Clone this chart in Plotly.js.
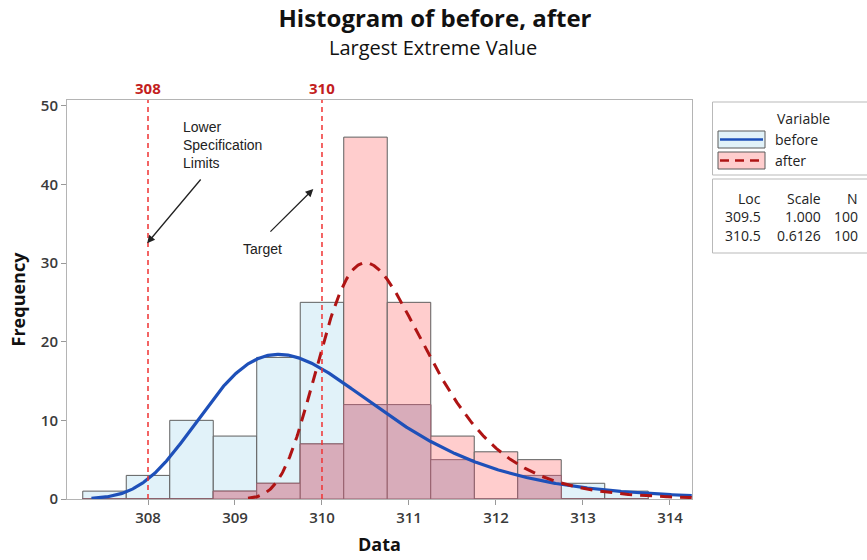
<!DOCTYPE html>
<html>
<head>
<meta charset="utf-8">
<script src="https://cdn.plot.ly/plotly-3.0.1.min.js"></script>
<style>
  html, body { margin: 0; padding: 0; background: #fff; }
  #chart { width: 867px; height: 560px; }
</style>
</head>
<body>
<div id="chart"></div>
<script>
// Histogram bins (bin width 0.5) and counts for each variable
const binCenters = [307.5, 308, 308.5, 309, 309.5, 310, 310.5, 311, 311.5, 312, 312.5, 313, 313.5];
const beforeCounts = [1, 3, 10, 8, 18, 25, 12, 12, 5, 0, 3, 2, 1];
const afterCounts  = [0, 0, 0, 1, 2, 7, 46, 25, 8, 6, 5, 0, 0];
const binWidth = 0.5;

// Largest extreme value fit parameters
const variables = ['before', 'after'];
const fitLoc   = [309.5, 310.5];
const fitScale = [1.000, 0.6126];
const fitN     = [100, 100];
const fitStart = [307.35, 309.15];
const fitEnd   = 314.25;

// Specification lines
const specValues = [308, 310];

// Plot-area geometry (pixels)
const L = 67, R = 692, T = 100, B = 499;
const px2x = p => (p - L) / (R - L);
const py2y = p => (B - p) / (B - T);

// Fitted density curve, scaled to counts per bin
function lev(loc, scale, n, x0, x1) {
  const xs = [], ys = [];
  for (let x = x0; x <= x1 + 1e-9; x += 0.01) {
    const z = (x - loc) / scale;
    xs.push(x);
    ys.push(n * binWidth / scale * Math.exp(-(z + Math.exp(-z))));
  }
  return {xs, ys};
}

const overlap = beforeCounts.map((b, i) => Math.min(b, afterCounts[i]));

const blueFill = 'rgb(225,242,249)';
const pinkFill = 'rgb(255,205,205)';
const mauveFill = 'rgb(216,172,186)';
const barEdge = 'rgb(95,95,95)';
const blueLine = 'rgb(30,80,185)';
const redLine = 'rgb(175,20,20)';

const traces = [
  {type: 'bar', x: binCenters, y: beforeCounts, width: binWidth, name: 'before',
   marker: {color: blueFill, line: {color: barEdge, width: 1}}, hoverinfo: 'x+y'},
  {type: 'bar', x: binCenters, y: afterCounts, width: binWidth, name: 'after',
   marker: {color: pinkFill, line: {color: barEdge, width: 1}}, hoverinfo: 'x+y'},
  {type: 'bar', x: binCenters, y: overlap, width: binWidth, name: 'both',
   marker: {color: mauveFill, line: {color: 'rgb(150,95,108)', width: 1}}, hoverinfo: 'skip'}
];

const cBefore = lev(fitLoc[0], fitScale[0], fitN[0], fitStart[0], fitEnd);
const cAfter  = lev(fitLoc[1], fitScale[1], fitN[1], fitStart[1], fitEnd);
traces.push({type: 'scatter', mode: 'lines', x: cBefore.xs, y: cBefore.ys, name: 'before fit',
  line: {color: blueLine, width: 3.2}, hoverinfo: 'skip'});
traces.push({type: 'scatter', mode: 'lines', x: cAfter.xs, y: cAfter.ys, name: 'after fit',
  line: {color: redLine, width: 3, dash: '12px,8px'}, hoverinfo: 'skip'});

const shapes = [];
const annotations = [];

// Specification lines with their labels above the plot
specValues.forEach(v => {
  shapes.push({type: 'line', xref: 'x', yref: 'paper', x0: v, x1: v, y0: 0, y1: 1,
    line: {color: 'rgb(240,50,50)', width: 1.5, dash: '5px,4px'}});
  annotations.push({xref: 'x', yref: 'paper', x: v, y: py2y(88), text: String(v),
    showarrow: false, xanchor: 'center', yanchor: 'middle',
    font: {family: 'Open Sans', size: 15, color: 'rgb(195,30,30)', weight: 700}});
});

// Callouts
const callFont = {family: 'Liberation Sans, Arial', size: 14, color: '#222'};
annotations.push({xref: 'paper', yref: 'paper', x: px2x(181), y: py2y(117),
  text: 'Lower<br>Specification<br>Limits', align: 'left', showarrow: false,
  xanchor: 'left', yanchor: 'top', font: callFont});
annotations.push({xref: 'x', yref: 'y', x: 307.99, y: 32.5, ax: 308.62, ay: 40.8,
  axref: 'x', ayref: 'y', text: '', showarrow: true, arrowhead: 2, arrowsize: 1.2,
  arrowwidth: 1.3, arrowcolor: '#222'});
annotations.push({xref: 'paper', yref: 'paper', x: px2x(262), y: py2y(249),
  text: 'Target', showarrow: false, xanchor: 'center', yanchor: 'middle', font: callFont});
annotations.push({xref: 'x', yref: 'y', x: 309.9, y: 39.4, ax: 309.39, ay: 33.8,
  axref: 'x', ayref: 'y', text: '', showarrow: true, arrowhead: 2, arrowsize: 1.2,
  arrowwidth: 1.3, arrowcolor: '#222'});

// Subtitle
annotations.push({xref: 'paper', yref: 'paper', x: px2x(433), y: py2y(47),
  text: 'Largest Extreme Value', showarrow: false, xanchor: 'center', yanchor: 'middle',
  font: {family: 'Open Sans', size: 20, color: '#111'}});

// Legend box: variables
const boxLine = {color: 'rgb(185,185,185)', width: 1};
shapes.push({type: 'rect', xref: 'paper', yref: 'paper',
  x0: px2x(712.5), x1: px2x(875), y0: py2y(175), y1: py2y(102), line: boxLine, fillcolor: 'white'});
shapes.push({type: 'rect', xref: 'paper', yref: 'paper',
  x0: px2x(712.5), x1: px2x(875), y0: py2y(253), y1: py2y(179), line: boxLine, fillcolor: 'white'});

const legFont = {family: 'Open Sans', size: 14, color: '#222'};
annotations.push({xref: 'paper', yref: 'paper', x: px2x(803), y: py2y(118), text: 'Variable',
  showarrow: false, xanchor: 'center', yanchor: 'middle', font: legFont});

const swatches = [
  {fill: blueFill, line: {color: blueLine, width: 2.5}, y0: 131, y1: 148},
  {fill: pinkFill, line: {color: redLine, width: 2.5, dash: '9px,6px'}, y0: 152, y1: 169}
];
swatches.forEach((s, i) => {
  shapes.push({type: 'rect', xref: 'paper', yref: 'paper',
    x0: px2x(718), x1: px2x(765), y0: py2y(s.y1), y1: py2y(s.y0),
    line: {color: 'rgb(90,90,90)', width: 1}, fillcolor: s.fill});
  const ym = py2y((s.y0 + s.y1) / 2);
  shapes.push({type: 'line', xref: 'paper', yref: 'paper',
    x0: px2x(720), x1: px2x(763), y0: ym, y1: ym, line: s.line});
  annotations.push({xref: 'paper', yref: 'paper', x: px2x(773), y: ym, text: variables[i],
    showarrow: false, xanchor: 'left', yanchor: 'middle', font: legFont});
});

// Fit parameter table
const colRight = [763, 823, 860];
const headers = ['Loc', 'Scale', 'N'];
const rowY = [198, 216.5, 235.5];
headers.forEach((h, j) => {
  annotations.push({xref: 'paper', yref: 'paper', x: px2x(colRight[j]), y: py2y(rowY[0]), text: h,
    showarrow: false, xanchor: 'right', yanchor: 'middle', font: legFont});
});
variables.forEach((v, i) => {
  const cells = [fitLoc[i].toFixed(1), fitScale[i].toPrecision(4), String(fitN[i])];
  cells.forEach((c, j) => {
    annotations.push({xref: 'paper', yref: 'paper', x: px2x(colRight[j]), y: py2y(rowY[i + 1]), text: c,
      showarrow: false, xanchor: 'right', yanchor: 'middle', font: legFont});
  });
});

const tickFont = {family: 'Open Sans', size: 15, color: '#3a3a3a', weight: 600};
const axisTitleFont = {family: 'Open Sans', size: 18, color: '#111', weight: 700};

const layout = {
  width: 867, height: 560,
  margin: {l: L, r: 867 - R, t: T, b: 560 - B, pad: 0},
  paper_bgcolor: 'white', plot_bgcolor: 'white',
  barmode: 'overlay', bargap: 0,
  showlegend: false,
  title: {text: 'Histogram of before, after', xref: 'container', x: 435 / 867, xanchor: 'center',
    yref: 'container', y: 1 - 19 / 560, yanchor: 'middle',
    font: {family: 'Open Sans', size: 24, color: '#111', weight: 700}},
  xaxis: {range: [307.069, 314.253], tickvals: [308, 309, 310, 311, 312, 313, 314],
    ticks: 'outside', ticklen: 5, tickcolor: '#999', tickfont: tickFont,
    showline: true, mirror: true, linecolor: 'rgb(180,180,180)', linewidth: 1,
    showgrid: false, zeroline: false,
    title: {text: 'Data', font: axisTitleFont, standoff: 12}},
  yaxis: {range: [0, 50.72], tickvals: [0, 10, 20, 30, 40, 50],
    ticks: 'outside', ticklen: 5, tickcolor: '#999', tickfont: tickFont,
    showline: true, mirror: true, linecolor: 'rgb(180,180,180)', linewidth: 1,
    showgrid: false, zeroline: false,
    title: {text: 'Frequency', font: axisTitleFont, standoff: 10}},
  shapes: shapes,
  annotations: annotations
};

Plotly.newPlot('chart', traces, layout, {staticPlot: true, displayModeBar: false});
</script>
</body>
</html>
